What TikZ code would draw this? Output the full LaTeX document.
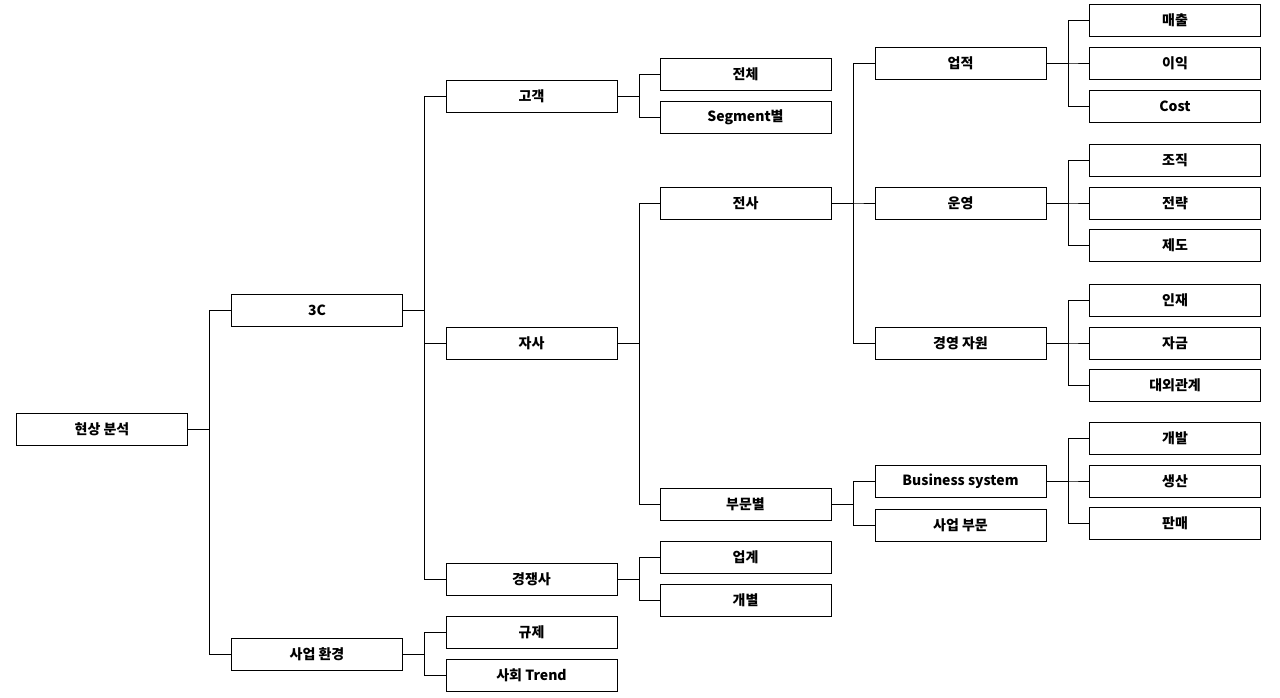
\documentclass[tikz,border=0pt]{standalone}
\usepackage{fontspec}
\setmainfont{Noto Sans CJK KR}
\begin{document}
\begin{tikzpicture}[x=1pt,y=-1pt,
  bx/.style={draw,line width=0.9pt,minimum width=171pt,minimum height=32pt,inner sep=0pt,font=\fontsize{14}{16}\selectfont\bfseries},
  ln/.style={line width=0.8pt}]
\useasboundingbox (0,0) rectangle (1280,697);
\newcommand\bxat[3]{\node[bx] (#1) at (#2) {#3};}
\bxat{r}{102,429}{현상 분석}
\bxat{c3}{317,310}{3C}
\bxat{env}{317,654}{사업 환경}
\bxat{cust}{531.5,96}{고객}
\bxat{self}{531.5,343}{자사}
\bxat{comp}{531.5,579}{경쟁사}
\bxat{reg}{531.5,632}{규제}
\bxat{soc}{531.5,675}{사회 Trend}
\bxat{all}{745.5,74}{전체}
\bxat{seg}{745.5,117}{Segment별}
\bxat{corp}{745.5,203}{전사}
\bxat{div}{745.5,504}{부문별}
\bxat{ind}{745.5,557}{업계}
\bxat{indiv}{745.5,600}{개별}
\bxat{perf}{960.5,63}{업적}
\bxat{op}{960.5,203}{운영}
\bxat{res}{960.5,343}{경영 자원}
\bxat{bs}{960.5,481}{Business system}
\bxat{bu}{960.5,525}{사업 부문}
\bxat{l1}{1175,20}{매출}
\bxat{l2}{1175,63}{이익}
\bxat{l3}{1175,106}{Cost}
\bxat{l4}{1175,160}{조직}
\bxat{l5}{1175,203}{전략}
\bxat{l6}{1175,245}{제도}
\bxat{l7}{1175,300}{인재}
\bxat{l8}{1175,343}{자금}
\bxat{l9}{1175,385}{대외관계}
\bxat{l10}{1175,438}{개발}
\bxat{l11}{1175,481}{생산}
\bxat{l12}{1175,523}{판매}
\foreach \p/\cs in {r/{c3,env},c3/{cust,self,comp},env/{reg,soc},cust/{all,seg},self/{corp,div},comp/{ind,indiv},corp/{perf,op,res},div/{bs,bu},perf/{l1,l2,l3},op/{l4,l5,l6},res/{l7,l8,l9},bs/{l10,l11,l12}}{
  \foreach \c in \cs {\draw[ln] (\p.east) -- ++(21.5,0) |- (\c.west);}
}
\end{tikzpicture}
\end{document}
